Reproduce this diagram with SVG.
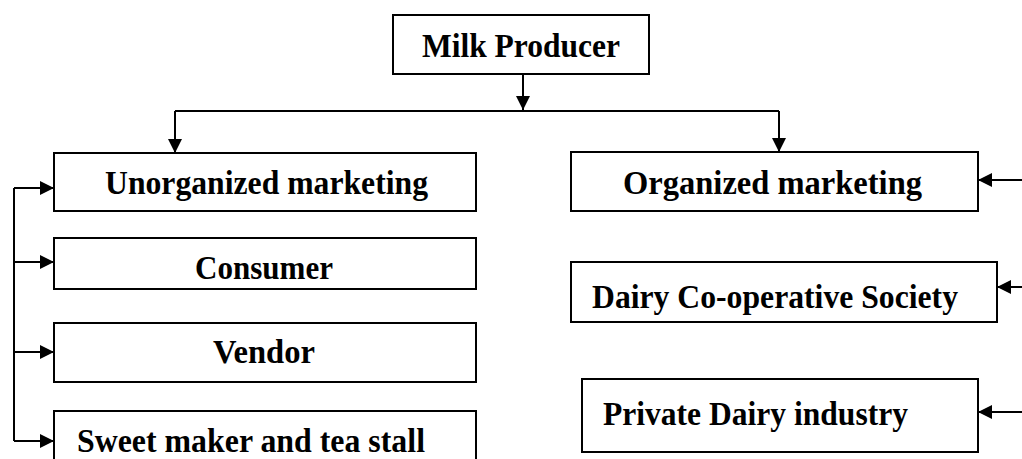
<svg xmlns="http://www.w3.org/2000/svg" width="1022" height="459" viewBox="0 0 1022 459">
<style>
.box{fill:#fff;stroke:#000;stroke-width:2}
.t{font-family:"Liberation Serif","Times New Roman",serif;font-weight:bold;font-size:34px;fill:#000}
.c{fill:none;stroke:#000;stroke-width:2}
</style>
<defs>
<marker id="ah" viewBox="0 0 14 14" refX="14" refY="7" markerWidth="14" markerHeight="14" markerUnits="userSpaceOnUse" orient="auto">
<path d="M0,0 L14,7 L0,14 Z" fill="#000"/>
</marker>
</defs>
<rect width="1022" height="459" fill="#fff"/>
<g id="producer"><rect class="box" x="393" y="15" width="256" height="59"/><text class="t" x="422" y="57" textLength="198" lengthAdjust="spacingAndGlyphs">Milk Producer</text></g>
<g id="unorganized"><rect class="box" x="54" y="153" width="422" height="58"/><text class="t" x="105" y="194" textLength="323" lengthAdjust="spacingAndGlyphs">Unorganized marketing</text></g>
<g id="organized"><rect class="box" x="571" y="152" width="407" height="59"/><text class="t" x="623" y="194" textLength="299" lengthAdjust="spacingAndGlyphs">Organized marketing</text></g>
<g id="consumer"><rect class="box" x="54" y="238" width="422" height="51"/><text class="t" x="195" y="279" textLength="138" lengthAdjust="spacingAndGlyphs">Consumer</text></g>
<g id="vendor"><rect class="box" x="54" y="323" width="422" height="59"/><text class="t" x="213" y="363" textLength="102" lengthAdjust="spacingAndGlyphs">Vendor</text></g>
<g id="sweet"><rect class="box" x="54" y="411" width="422" height="60"/><text class="t" x="77" y="452" textLength="348" lengthAdjust="spacingAndGlyphs">Sweet maker and tea stall</text></g>
<g id="coop"><rect class="box" x="571" y="262" width="426" height="60"/><text class="t" x="592" y="308" textLength="366" lengthAdjust="spacingAndGlyphs">Dairy Co-operative Society</text></g>
<g id="private"><rect class="box" x="582" y="379" width="396" height="73"/><text class="t" x="603" y="425" textLength="305" lengthAdjust="spacingAndGlyphs">Private Dairy industry</text></g>
<g id="connectors">
<path class="c" d="M523,74 V110" marker-end="url(#ah)"/>
<path class="c" d="M175,111 H779"/>
<path class="c" d="M175,111 V153" marker-end="url(#ah)"/>
<path class="c" d="M779,111 V152" marker-end="url(#ah)"/>
<path class="c" d="M14,188 V441"/>
<path class="c" d="M14,188 H54" marker-end="url(#ah)"/>
<path class="c" d="M14,262 H54" marker-end="url(#ah)"/>
<path class="c" d="M14,352 H54" marker-end="url(#ah)"/>
<path class="c" d="M14,441 H54" marker-end="url(#ah)"/>
<path class="c" d="M1022,180 H978" marker-end="url(#ah)"/>
<path class="c" d="M1022,287 H997" marker-end="url(#ah)"/>
<path class="c" d="M1022,412 H978" marker-end="url(#ah)"/>
</g>
</svg>
